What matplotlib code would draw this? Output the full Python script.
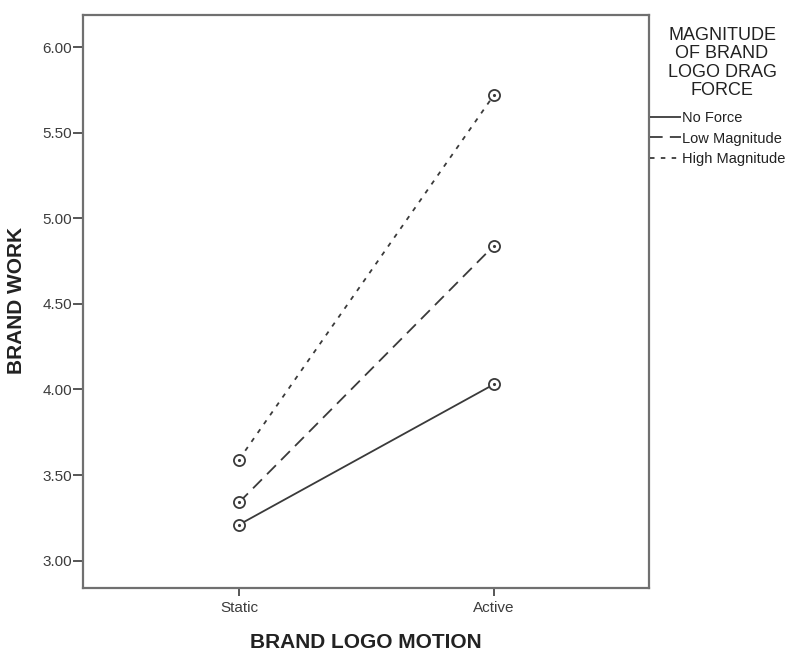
import matplotlib
matplotlib.use("Agg")
import matplotlib.pyplot as plt
from matplotlib.lines import Line2D

plt.rcParams['font.family'] = ['Liberation Sans', 'DejaVu Sans']

# cell means of brand work, by logo motion and drag force
motion = ["Static", "Active"]
no_force = [3.21, 4.03]
low_magnitude = [3.34, 4.84]
high_magnitude = [3.59, 5.72]
series_names = ["No Force", "Low Magnitude", "High Magnitude"]
y_ticks = [3.0, 3.5, 4.0, 4.5, 5.0, 5.5, 6.0]

ink = "#3a3a3a"
frame = "#707070"
styles = [
    (0, ()),
    (0, (7, 4)),
    (0, (2.5, 3.5)),
]

fig = plt.figure(figsize=(7.87, 6.5), dpi=100)
ax = fig.add_axes([83 / 787, 1 - 588 / 650, (649 - 83) / 787, (588 - 15) / 650])

xs = list(range(len(motion)))
handles = []
for vals, ls, name in zip([no_force, low_magnitude, high_magnitude], styles, series_names):
    ax.plot(xs, vals, color=ink, lw=1.3, linestyle=ls, zorder=2)
    ax.plot(xs, vals, linestyle="none", marker="o", ms=8, mfc="white",
            mec=ink, mew=1.3, zorder=3)
    ax.plot(xs, vals, linestyle="none", marker=".", ms=2.5, color=ink, zorder=4)
    handles.append(Line2D([], [], color=ink, lw=1.3, linestyle=ls, label=name))

ax.set_xlim(-0.612, 1.608)
ax.set_ylim(2.84, 6.187)
ax.set_xticks(xs)
ax.set_xticklabels(motion)
ax.set_yticks(y_ticks)
ax.set_yticklabels([f"{v:.2f}" for v in y_ticks])
ax.tick_params(axis="y", direction="out", length=7, width=1.2, color=ink,
               labelsize=11, labelcolor="#3c3c3c", pad=1)
ax.tick_params(axis="x", direction="out", length=6, width=1.2, color=ink,
               labelsize=11, labelcolor="#3c3c3c", pad=3)
for sp in ax.spines.values():
    sp.set_color(frame)
    sp.set_linewidth(1.6)

fig.text(17 / 787, 1 - 301 / 650, "BRAND WORK", rotation=90, ha="center",
         va="center", fontsize=15, fontweight="bold", color="#222222")
fig.text(366 / 787, 1 - 642 / 650, "BRAND LOGO MOTION", ha="center",
         va="center", fontsize=15, fontweight="bold", color="#222222")

fig.text(722 / 787, 1 - 27 / 650, "MAGNITUDE\nOF BRAND\nLOGO DRAG\nFORCE",
         ha="center", va="top", fontsize=13, linespacing=1.1, color="#222222")
leg = fig.legend(handles=handles, loc="upper left",
                 bbox_to_anchor=(650 / 787, 1 - 111 / 650), frameon=False,
                 fontsize=10.5, handlelength=2.1, handletextpad=0.1,
                 labelspacing=0.45, borderpad=0, borderaxespad=0)
for t in leg.get_texts():
    t.set_color("#222222")

fig.savefig("out.png", dpi=100)
